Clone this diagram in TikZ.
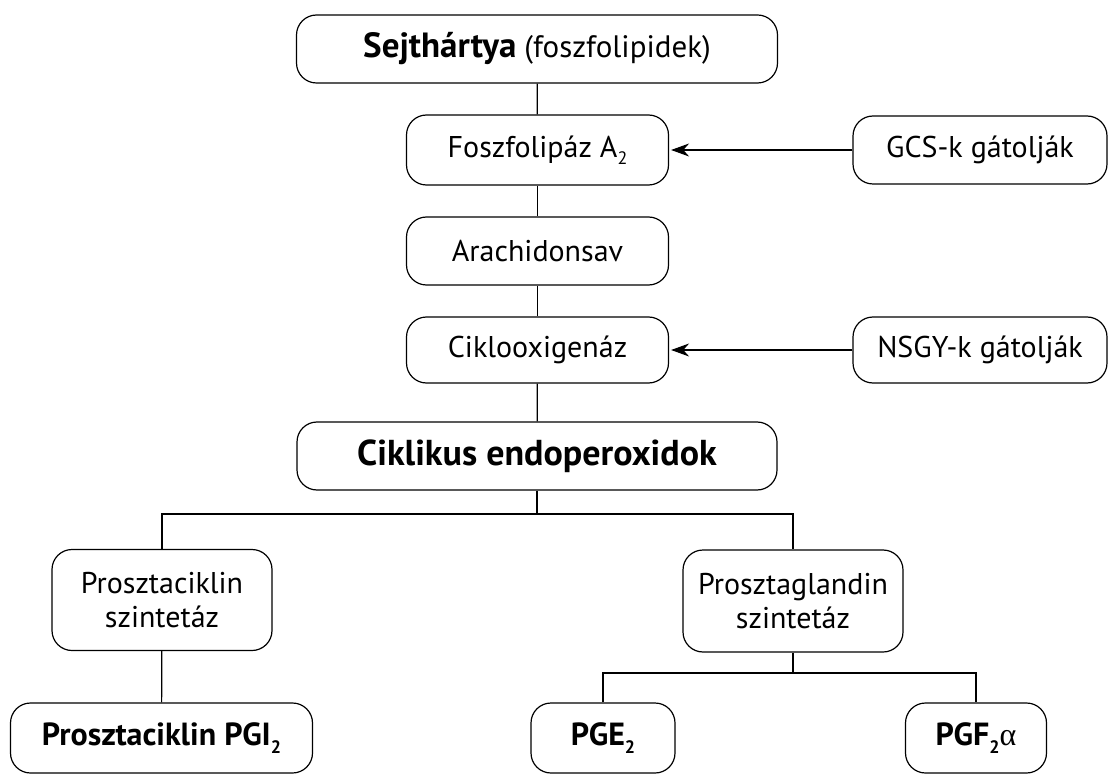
\documentclass[tikz,border=0pt]{standalone}
\usepackage{fontspec}
\setmainfont{PT Sans}
\newfontfamily\greekfont{Liberation Serif}
\usepackage{tikz}
\usetikzlibrary{arrows.meta,positioning,calc}

\newcommand{\sub}[1]{\raisebox{-0.5ex}{\small #1}}

\begin{document}
\begin{tikzpicture}[x=0.5pt,y=-0.5pt,>={Stealth[length=9pt,width=6.5pt]},
    box/.style={draw,line width=0.6pt,rounded corners=10pt,align=center,
      inner sep=0pt,font=\fontsize{15}{17}\selectfont},
    bigbox/.style={box,font=\fontsize{18}{21}\selectfont\bfseries},
    endbox/.style={box,minimum height=35pt,font=\fontsize{16}{19}\selectfont\bfseries},
    link/.style={line width=0.6pt},
    inhib/.style={->,line width=0.6pt,shorten >=1pt}]
  \useasboundingbox (0,0) rectangle (1108,775);
  % main chain
  \node[box,minimum width=240.5pt,minimum height=34pt] (membran) at (537,49)
    {{\fontsize{17.5}{20}\selectfont\bfseries Sejthártya} {\fontsize{15.5}{18}\selectfont(foszfolipidek)}};
  \node[box,minimum width=131pt,minimum height=35pt] (foszf) at (537.5,150) {Foszfolipáz A\sub{2}};
  \node[box,minimum width=131pt,minimum height=34pt] (arach) at (537.5,251) {Arachidonsav};
  \node[box,minimum width=131pt,minimum height=33pt] (ciklo) at (537.5,350) {Ciklooxigenáz};
  \node[bigbox,minimum width=240pt,minimum height=34pt] (endo) at (537,456) {Ciklikus endoperoxidok};
  % inhibitors
  \node[box,minimum width=127pt,minimum height=34pt] (gcs) at (980,150) {GCS-k gátolják};
  \node[box,minimum width=127pt,minimum height=33pt] (nsgy) at (980,350) {NSGY-k gátolják};
  % synthases
  \node[box,minimum width=110pt,minimum height=50.5pt] (pcsz) at (162,600) {Prosztaciklin\\szintetáz};
  \node[box,minimum width=110pt,minimum height=51pt] (pgsz) at (793,601) {Prosztaglandin\\szintetáz};
  % products
  \node[endbox,minimum width=151pt] (pgi) at (161.5,738) {Prosztaciklin PGI\sub{2}};
  \node[endbox,minimum width=72pt] (pge) at (603,738) {PGE\sub{2}};
  \node[endbox,minimum width=70.5pt] (pgf) at (976,738) {PGF\sub{2}{\greekfont\mdseries α}};

  \coordinate (split) at (537,514);
  \coordinate (split2) at (793,673);

  \draw[link] (membran) -- (foszf);
  \draw[link] (foszf) -- (arach);
  \draw[link] (arach) -- (ciklo);
  \draw[link] (ciklo) -- (endo);
  \draw[inhib] (gcs) -- (foszf);
  \draw[inhib] (nsgy) -- (ciklo);
  \draw[link] (endo) -- (split);
  \draw[link] (pcsz.north) |- (split) -| (pgsz.north);
  \draw[link] (pcsz) -- (pgi);
  \draw[link] (pgsz) -- (split2);
  \draw[link] (pge.north) |- (split2) -| (pgf.north);
\end{tikzpicture}
\end{document}
